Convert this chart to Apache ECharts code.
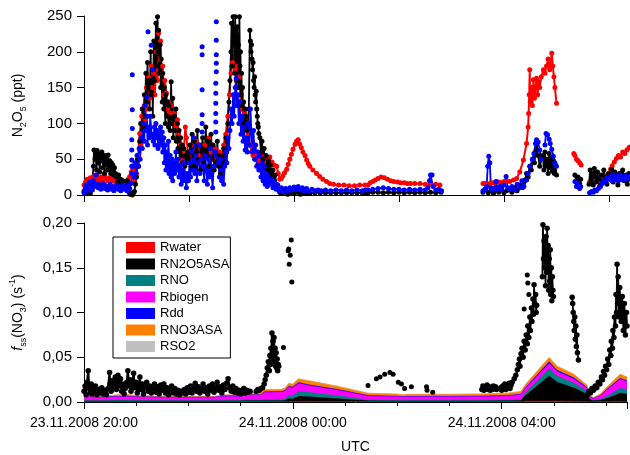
<!DOCTYPE html>
<html><head><meta charset="utf-8">
<script src="https://cdn.jsdelivr.net/npm/echarts@6/dist/echarts.min.js"></script>
<style>html,body{margin:0;padding:0;background:#fff}#c{width:630px;height:455px}</style>
</head><body><div id="c"></div>
<script>
// ---- x tick labels (hours counted from 23.11.2008 00:00) ----
const xTickLabels = {20: '23.11.2008 20:00', 24: '24.11.2008 00:00', 28: '24.11.2008 04:00'};

// ---- Top panel: N2O5 (ppt), [hour, value] ----
const n2o5Red = [
[20.00,14],[20.03,18],[20.06,22],[20.09,17],[20.12,24],[20.15,20],[20.18,26],[20.21,22],[20.24,28],[20.27,24],[20.30,20],[20.33,25],[20.36,22],[20.39,27],[20.42,23],[20.45,20],[20.48,24],[20.51,21],[20.54,25],[20.57,20],[20.60,18],[20.63,22],[20.66,17],[20.69,20],[20.72,16],[20.75,19],[20.78,15],[20.81,18],[20.84,22],[20.87,26],[20.90,32],[20.93,36],
[20.96,20],[21.00,30],[21.03,55],[21.06,86],[21.08,70],[21.10,110],[21.12,95],[21.15,125],[21.17,105],[21.19,150],[21.21,120],[21.23,165],[21.25,135],[21.28,180],[21.30,150],[21.32,170],[21.35,140],[21.38,200],[21.40,160],[21.42,226],[21.44,190],[21.46,215],[21.48,170],[21.50,180],[21.52,140],[21.54,160],[21.57,142],[21.59,120],[21.61,130],[21.63,115],[21.66,125],[21.69,100],[21.72,115],[21.75,95],[21.78,105],[21.80,86],[21.83,70],[21.85,44],[21.88,48],[21.90,60],[21.93,95],[21.95,80],[21.98,60],[22.01,50],[22.04,70],[22.07,55],
[22.10,60],[22.14,75],[22.18,55],[22.22,65],[22.26,45],[22.30,70],[22.34,55],[22.38,80],[22.42,60],[22.46,50],[22.50,65],[22.54,45],[22.58,60],[22.62,50],[22.66,70],[22.70,85],[22.74,110],[22.77,140],
[22.80,170],[22.83,185],[22.86,200],[22.88,175],[22.90,160],[22.92,180],[22.94,150],[22.96,165],[22.98,130],[23.00,140],[23.02,120],[23.04,118],[23.06,115],[23.08,120],[23.10,100],[23.13,86],[23.16,70],[23.19,60],
[23.22,55],[23.26,50],[23.30,58],[23.34,48],[23.38,55],[23.42,45],[23.47,49],[23.51,52],[23.54,53],[23.58,46],[23.62,42],[23.67,40],
[23.70,30],[23.73,22],[23.76,23],[23.79,27],[23.82,31],[23.86,36],[23.89,43],[23.92,50],[23.95,57],[23.98,64],[24.02,71],[24.05,75],[24.08,77],[24.11,71],[24.14,66],[24.17,60],[24.21,55],[24.24,49],[24.27,44],[24.30,40],[24.36,35],[24.43,30],[24.49,26],[24.55,22],[24.62,19],[24.68,16],
[24.75,15],[24.85,14],[24.95,14],[25.05,13],[25.15,13],[25.25,14],[25.35,14],[25.385,null],
[25.41,14],[25.45,17],[25.50,19],[25.55,21],[25.60,23],[25.66,25],[25.72,24],[25.78,22],[25.84,20],[25.90,19],[25.97,18],[26.03,17],[26.10,17],[26.16,16],[26.22,16],[26.30,16],[26.40,16],[26.50,15],[26.60,15],[26.70,15],[26.78,14],[27.2,null],
[27.60,16],[27.65,16],[27.70,15],[27.75,17],[27.80,17],[27.85,18],[27.90,18],[27.95,17],[28.00,19],[28.05,20],
[28.11,19],[28.18,21],[28.24,23],[28.30,32],[28.37,49],[28.43,72],[28.46,95],[28.47,114],[28.48,140],[28.49,175],[28.50,130],[28.52,150],[28.54,125],[28.56,161],[28.58,135],[28.60,150],[28.62,163],[28.64,140],[28.66,158],[28.68,150],[28.71,165],[28.75,175],[28.78,170],[28.81,180],[28.84,190],[28.87,175],[28.91,198],[28.93,180],[28.95,165],[28.97,150],[29.00,128],[29.2,null],
[29.33,58],[29.35,55],[29.38,50],[29.41,48],[29.44,45],[29.47,42],[29.55,null],
[29.63,18],[29.67,17],[29.72,18],[29.77,19],[29.82,20],[29.88,22],[29.94,26],[30.00,30],[30.03,36],[30.06,41],[30.10,46],[30.14,51],[30.18,55],[30.22,53],[30.26,60],[30.30,58],[30.34,63],[30.38,66],[30.40,67]
];

const n2o5Black = [
[20.00,5],[20.03,12],[20.06,3],[20.09,8],[20.12,2],[20.15,10],
[20.18,40],[20.19,63],[20.21,50],[20.22,60],[20.24,35],[20.25,62],[20.27,45],[20.28,58],[20.30,32],[20.31,55],[20.33,48],[20.34,60],[20.36,38],[20.37,52],[20.39,30],[20.40,55],[20.42,42],[20.43,50],[20.45,35],[20.46,56],[20.48,40],[20.49,48],[20.51,30],[20.52,45],[20.54,35],[20.55,42],[20.57,28],[20.58,38],[20.60,30],
[20.62,25],[20.64,18],[20.66,28],[20.68,15],[20.70,22],[20.72,14],[20.74,20],[20.76,12],[20.78,18],[20.80,14],[20.82,20],[20.84,16],
[20.86,4],[20.88,1],[20.90,3],[20.92,0],[20.94,2],[20.96,5],
[20.98,15],[21.00,25],[21.02,50],[21.04,40],[21.06,75],[21.08,100],[21.10,80],[21.11,120],[21.13,95],[21.15,140],[21.16,110],[21.18,170],[21.19,130],[21.21,185],[21.22,150],[21.24,160],[21.25,120],[21.27,200],[21.28,140],[21.30,175],[21.31,110],[21.33,215],[21.34,160],[21.36,190],[21.37,240],[21.38,180],[21.40,249],[21.41,200],[21.42,230],[21.43,170],[21.45,210],[21.46,150],[21.47,190],[21.49,130],[21.50,170],[21.52,120],[21.53,150],[21.55,100],[21.56,140],[21.58,110],[21.59,130],[21.61,95],[21.62,125],[21.64,90],[21.66,158],[21.67,100],[21.69,135],[21.70,80],[21.72,110],[21.73,90],[21.75,120],[21.76,75],[21.78,100],[21.79,65],[21.81,90],[21.82,60],[21.84,80],[21.85,55],[21.87,70],[21.88,45],[21.90,65],[21.92,40],[21.94,55],[21.96,45],[21.98,60],
[22.00,50],[22.02,70],[22.04,40],[22.06,85],[22.08,55],[22.10,75],[22.12,40],[22.14,60],[22.16,90],[22.18,50],[22.20,70],[22.22,35],[22.24,65],[22.26,80],[22.28,45],[22.30,60],[22.32,95],[22.34,55],[22.36,75],[22.38,40],[22.40,65],[22.42,85],[22.44,50],[22.46,70],[22.48,35],[22.50,60],[22.52,45],[22.54,75],[22.56,40],[22.58,55],[22.60,30],[22.62,50],[22.64,40],[22.66,65],[22.68,45],[22.70,80],[22.72,60],[22.74,100],[22.76,130],
[22.78,160],[22.80,200],[22.81,240],[22.82,180],[22.84,249],[22.85,210],[22.86,230],[22.87,170],[22.88,249],[22.89,200],[22.90,220],[22.91,160],[22.92,235],[22.93,190],[22.94,210],[22.95,150],[22.96,249],[22.97,180],[22.98,200],[22.99,140],[23.00,170],[23.01,125],[23.02,150],[23.03,110],[23.04,130],[23.05,100],[23.06,120],[23.07,95],[23.08,110],[23.10,90],[23.12,100],[23.14,120],
[23.16,230],[23.17,215],[23.18,200],[23.19,210],[23.20,190],[23.21,175],[23.22,185],[23.23,160],[23.24,150],[23.25,165],[23.26,140],[23.27,130],[23.28,145],[23.29,120],[23.30,110],[23.31,100],[23.32,95],[23.33,86],
[23.35,80],[23.37,60],[23.39,75],[23.41,50],[23.43,65],[23.45,40],[23.47,55],[23.49,35],[23.51,48],[23.53,30],[23.55,42],[23.57,25],[23.60,35],[23.62,20],[23.64,28],[23.67,15],[23.70,8],[23.73,4],
[23.76,2],[23.82,4],[23.88,1],[23.94,3],[24.00,2],[24.06,4],[24.12,1],[24.18,3],[24.24,2],[24.30,2],[24.40,3],[24.50,3],[24.60,3],[24.70,3],[24.80,3],[24.90,3],[25.00,3],[25.10,3],[25.20,3],[25.30,3],[25.36,3],[25.385,null],
[25.41,3],[25.50,4],[25.60,4],[25.70,3],[25.80,4],[25.90,3],[26.00,4],[26.10,3],[26.20,4],[26.30,3],[26.40,4],[26.50,3],[26.60,4],[26.70,3],[26.80,4],[27.2,null],
[27.60,4],[27.65,8],[27.70,3],[27.75,6],[27.80,2],[27.85,7],[27.90,4],[27.95,9],[28.00,3],[28.05,6],[28.10,8],[28.15,4],[28.20,10],[28.25,6],[28.30,14],[28.35,10],[28.40,21],[28.43,30],[28.46,25],[28.49,40],[28.52,35],[28.55,50],[28.58,45],[28.60,60],[28.62,74],[28.65,55],[28.68,40],
[28.74,55],[28.76,35],[28.78,60],[28.80,40],[28.82,50],[28.84,30],[28.86,58],[28.88,38],[28.90,52],[28.92,33],[28.94,48],[28.96,30],[28.98,42],[29.00,28],[29.2,null],
[29.35,28],[29.38,18],[29.41,25],[29.44,16],[29.46,22],[29.55,null],
[29.62,15],[29.64,35],[29.66,20],[29.68,30],[29.70,14],[29.72,37],[29.74,25],[29.76,18],[29.78,32],[29.80,22],[29.82,12],[29.85,28],[29.88,20],[29.90,35],[29.93,25],[29.96,15],[29.99,30],[30.02,22],[30.05,36],[30.08,18],[30.11,32],[30.14,25],[30.17,14],[30.20,30],[30.23,22],[30.26,35],[30.29,20],[30.32,28],[30.35,15],[30.38,30],[30.40,22]
];

const n2o5Blue = [
[20.00,3],[20.02,8],[20.04,14],[20.06,6],[20.08,12],[20.10,18],[20.12,9],[20.14,15],[20.16,7],[20.18,20],[20.20,12],[20.23,28],[20.25,15],[20.27,10],[20.30,14],[20.32,8],[20.35,12],[20.37,16],[20.40,9],[20.42,13],[20.45,7],[20.47,11],[20.50,15],[20.52,8],[20.55,12],[20.57,6],[20.60,10],[20.62,14],[20.65,8],[20.67,12],[20.70,6],[20.72,10],[20.75,14],[20.77,8],[20.80,11],[20.82,6],[20.85,13],[20.87,9],[20.89,16],
[20.93,40],[20.95,25],[20.97,45],[20.99,30],[21.01,55],[21.03,40],[21.05,65],[21.07,50],[21.09,80],[21.11,65],[21.13,100],[21.15,75],[21.16,125],[21.18,90],[21.20,110],[21.21,70],[21.23,95],[21.25,80],[21.26,110],[21.29,85],[21.32,75],[21.34,95],[21.35,70],[21.37,100],[21.38,80],[21.40,90],[21.41,65],[21.43,85],[21.44,75],[21.46,95],[21.47,70],[21.49,88],[21.50,60],[21.52,80],[21.53,45],[21.55,70],[21.56,35],[21.58,60],[21.59,40],[21.61,75],[21.62,30],[21.64,55],[21.66,25],[21.68,50],[21.69,20],[21.71,45],[21.73,30],[21.75,60],[21.77,35],[21.79,50],[21.81,25],[21.83,40],[21.85,15],[21.87,35],[21.89,20],[21.91,45],[21.93,25],[21.95,10],[21.97,30],[21.99,20],
[22.01,45],[22.03,25],[22.05,60],[22.07,35],[22.09,80],[22.11,30],[22.13,55],[22.15,20],[22.17,45],[22.19,70],[22.21,30],[22.23,50],[22.27,40],[22.29,20],[22.31,55],[22.33,35],[22.35,15],[22.37,50],[22.39,25],[22.41,65],[22.43,30],[22.45,10],[22.47,40],[22.49,60],[22.56,45],[22.58,25],[22.60,50],[22.62,20],[22.64,35],[22.66,15],[22.68,40],[22.70,60],[22.72,45],[22.74,80],[22.76,65],
[22.78,90],[22.80,120],[22.82,100],[22.84,140],[22.86,110],[22.88,150],[22.90,163],[22.91,125],[22.93,140],[22.95,100],[22.97,130],[22.99,85],[23.01,110],[23.03,75],[23.05,95],[23.07,63],[23.09,80],[23.11,60],[23.13,100],[23.15,70],[23.17,120],[23.19,85],[23.21,60],[23.23,90],[23.25,50],[23.27,70],[23.29,40],[23.31,60],[23.33,35],[23.35,55],[23.37,25],[23.39,45],[23.41,20],[23.43,40],[23.45,15],[23.47,30],[23.49,12],[23.51,25],[23.54,15],[23.57,22],[23.60,10],[23.63,18],[23.66,8],[23.69,14],
[23.72,6],[23.76,10],[23.80,5],[23.84,9],[23.88,6],[23.92,10],[23.96,7],[24.00,11],[24.04,8],[24.08,12],[24.12,7],[24.16,10],[24.20,6],[24.24,9],[24.28,5],[24.34,8],[24.40,6],[24.46,7],[24.52,6],[24.60,7],[24.70,6],[24.80,7],[24.90,6],[25.00,7],[25.10,6],[25.20,7],[25.30,6],[25.36,7],[25.385,null],
[25.41,7],[25.50,8],[25.60,9],[25.70,10],[25.80,9],[25.90,8],[26.00,8],[26.10,7],[26.20,8],[26.30,7],[26.40,8],[26.50,7],[26.55,10],[26.58,20],[26.60,28],[26.63,28],[26.65,12],[26.70,7],[26.76,8],[26.81,6],[27.2,null],
[27.60,6],[27.64,8],[27.67,12],[27.69,40],[27.71,54],[27.73,45],[27.75,10],[27.78,7],[27.82,10],[27.85,19],[27.88,8],[27.92,12],[27.96,7],[28.00,14],[28.04,26],[28.07,10],[28.11,8],[28.15,12],[28.20,7],[28.25,15],[28.30,10],[28.34,20],[28.38,12],[28.43,21],[28.46,30],[28.50,40],[28.54,50],[28.57,58],[28.60,72],[28.62,77],[28.65,74],[28.68,63],[28.71,50],[28.745,null],
[28.78,70],[28.80,86],[28.83,84],[28.86,78],[28.88,72],[28.91,64],[28.94,54],[28.97,45],[29.00,40],[29.2,null],
[29.35,19],[29.38,12],[29.41,15],[29.44,9],[29.46,12],[29.55,null],
[29.63,3],[29.67,5],[29.70,4],[29.73,7],[29.76,6],[29.80,9],[29.84,12],[29.87,16],[29.90,20],[29.93,18],[29.96,24],[30.00,22],[30.03,26],[30.06,20],[30.09,28],[30.12,22],[30.15,27],[30.18,20],[30.21,28],[30.24,24],[30.27,21],[30.30,27],[30.33,23],[30.36,26],[30.40,24]
];
// isolated blue readings (vertical columns and single high points)
const n2o5BlueSpikes = [
[20.91,30],[20.91,40],[20.91,49],[20.91,63],[20.91,77],[20.92,93],[20.92,119],[20.92,168],
[21.20,137],[21.22,228],[21.28,209],[21.31,175],
[22.25,88],[22.25,100],[22.25,112],[22.25,147],[22.25,196],[22.25,207],
[22.51,88],[22.51,102],[22.51,114],[22.51,128],[22.51,142],[22.51,156],[22.52,172],[22.52,184],[22.52,196],[22.52,216],[22.52,242]
];

// ---- Bottom panel: contributions to f_ss(NO3) (s^-1), sampled at areaTimes ----
const areaTimes = [20.00,20.30,20.65,20.80,21.00,21.50,22.00,22.50,22.70,23.00,23.10,23.40,23.45,23.78,23.85,23.92,24.00,24.11,24.30,24.87,25.44,26.00,26.10,26.20,27.00,27.60,28.10,28.37,28.45,28.91,29.06,29.38,29.63,29.69,29.76,29.89,30.02,30.14,30.27,30.40];
const rWater   = [0.0005,0.0005,0.0005,0.0005,0.0005,0.0005,0.0005,0.0005,0.0005,0.0005,0.0005,0.0005,0.0005,0.0005,0.0005,0.0006,0.0006,0.0008,0.0008,0.0006,0.0005,0.0005,0.0005,0.0005,0.0005,0.0005,0.0005,0.0005,0.0010,0.0010,0.0010,0.0008,0.0006,0.0004,0.0004,0.0005,0.0006,0.0007,0.0008,0.0008];
const rN2O5ASA = [0.0005,0.0005,0.0006,0.0006,0.0005,0.0005,0.0005,0.0005,0.0006,0.0006,0.0008,0.0008,0.0008,0.0009,0.0012,0.0030,0.0028,0.0055,0.0050,0.0030,0.0008,0.0006,0.0005,0.0006,0.0006,0.0006,0.0008,0.0010,0.0060,0.0280,0.0210,0.0150,0.0080,0.0020,0.0010,0.0015,0.0035,0.0060,0.0090,0.0080];
const rNO      = [0.0010,0.0008,0.0010,0.0010,0.0009,0.0008,0.0008,0.0008,0.0009,0.0009,0.0012,0.0012,0.0014,0.0015,0.0018,0.0035,0.0033,0.0055,0.0050,0.0035,0.0010,0.0008,0.0007,0.0008,0.0008,0.0009,0.0010,0.0012,0.0030,0.0085,0.0070,0.0055,0.0035,0.0010,0.0008,0.0010,0.0025,0.0040,0.0055,0.0050];
const rBiogen  = [0.0040,0.0035,0.0038,0.0040,0.0038,0.0035,0.0034,0.0035,0.0045,0.0045,0.0052,0.0052,0.0082,0.0082,0.0088,0.0095,0.0092,0.0090,0.0075,0.0060,0.0045,0.0042,0.0038,0.0040,0.0040,0.0042,0.0045,0.0055,0.0050,0.0055,0.0050,0.0045,0.0035,0.0020,0.0018,0.0040,0.0070,0.0085,0.0100,0.0090];
const rDd      = [0.0003,0.0003,0.0004,0.0004,0.0003,0.0003,0.0003,0.0003,0.0004,0.0004,0.0005,0.0005,0.0005,0.0005,0.0006,0.0008,0.0008,0.0010,0.0010,0.0008,0.0005,0.0004,0.0004,0.0004,0.0004,0.0004,0.0005,0.0005,0.0007,0.0020,0.0015,0.0012,0.0008,0.0003,0.0002,0.0004,0.0008,0.0010,0.0012,0.0010];
const rNO3ASA  = [0.0007,0.0005,0.0018,0.0022,0.0012,0.0008,0.0008,0.0008,0.0010,0.0012,0.0026,0.0026,0.0025,0.0025,0.0028,0.0033,0.0032,0.0040,0.0045,0.0035,0.0025,0.0024,0.0022,0.0023,0.0023,0.0024,0.0026,0.0030,0.0035,0.0048,0.0045,0.0040,0.0025,0.0012,0.0008,0.0015,0.0025,0.0035,0.0045,0.0040];
const rSO2     = [0.0001,0.0001,0.0001,0.0001,0.0001,0.0001,0.0001,0.0001,0.0001,0.0001,0.0001,0.0001,0.0001,0.0001,0.0001,0.0002,0.0002,0.0002,0.0002,0.0002,0.0001,0.0001,0.0001,0.0001,0.0001,0.0001,0.0001,0.0001,0.0002,0.0003,0.0003,0.0002,0.0002,0.0001,0.0001,0.0001,0.0002,0.0002,0.0002,0.0002];

// ---- Bottom panel: measured f_ss(NO3) points, [hour, value] ----
const fssBand = [
[20.00,0.012],[20.02,0.018],[20.04,0.008],[20.06,0.022],[20.08,0.035],[20.10,0.015],[20.12,0.010],[20.14,0.020],[20.16,0.009],[20.18,0.016],[20.20,0.012],[20.22,0.018],[20.25,0.008],[20.28,0.014],[20.31,0.010],[20.34,0.016],[20.37,0.009],[20.40,0.013],[20.43,0.008],[20.46,0.015],[20.49,0.033],[20.50,0.020],[20.52,0.012],[20.55,0.024],[20.57,0.016],[20.60,0.028],[20.62,0.014],[20.65,0.030],[20.67,0.018],[20.70,0.026],[20.72,0.012],[20.75,0.020],[20.77,0.009],[20.79,0.015],[20.82,0.022],[20.84,0.035],[20.86,0.018],[20.88,0.025],[20.90,0.012],[20.92,0.020],[20.95,0.032],[20.97,0.016],[21.00,0.022],[21.02,0.010],[21.05,0.018],[21.07,0.028],[21.09,0.014],[21.12,0.020],[21.14,0.009],[21.17,0.016],[21.20,0.022],[21.23,0.012],[21.26,0.018],[21.29,0.010],[21.32,0.015],[21.35,0.020],[21.38,0.011],[21.41,0.017],[21.44,0.009],[21.47,0.019],[21.50,0.013],[21.53,0.020],[21.56,0.010],[21.59,0.016],[21.62,0.008],[21.65,0.014],[21.68,0.018],[21.71,0.010],[21.74,0.015],[21.77,0.009],[21.80,0.013],[21.83,0.008],[21.86,0.012],[21.89,0.010],
[21.92,0.014],[21.95,0.009],[21.98,0.016],[22.01,0.011],[22.04,0.018],[22.07,0.010],[22.10,0.015],[22.13,0.021],[22.16,0.012],[22.19,0.017],[22.22,0.010],[22.25,0.015],[22.28,0.020],[22.31,0.012],[22.34,0.016],[22.37,0.009],[22.40,0.018],[22.43,0.013],[22.46,0.020],[22.49,0.011],[22.52,0.016],[22.55,0.022],[22.58,0.013],[22.61,0.017],[22.64,0.010],[22.67,0.019],[22.70,0.014],[22.73,0.021],[22.76,0.026],[22.79,0.016],[22.82,0.012],[22.85,0.018],[22.88,0.011],[22.91,0.015],[22.94,0.010],[22.97,0.013],[23.00,0.009],[23.03,0.012],[23.06,0.015],[23.09,0.010],[23.12,0.013],[23.15,0.011],[23.18,0.012],[23.24,null],
[23.30,0.012],[23.33,0.014],[23.36,0.013],[23.39,0.015],[23.42,0.016],[23.45,0.020],[23.47,0.025],[23.49,0.030],[23.51,0.038],[23.53,0.045],[23.55,0.035],[23.56,0.052],[23.57,0.042],[23.58,0.060],[23.59,0.048],[23.60,0.077],[23.61,0.055],[23.62,0.068],[23.63,0.050],[23.64,0.072],[23.65,0.045],[23.66,0.060],[23.67,0.040],[23.68,0.055],[23.69,0.038],[23.70,0.048],[23.71,0.035],[23.72,0.042],[23.73,0.040]
];
const fssIsolated = [
[23.82,0.061],[23.91,0.169],[23.92,0.171],[23.93,0.154],[23.95,0.164],[23.97,0.181],[23.98,0.134],
[25.44,0.0185],[25.60,0.026],[25.67,0.028],[25.76,0.031],[25.86,0.033],[25.92,0.031],[26.02,0.022],[26.08,0.020],[26.14,0.015],[26.27,0.017],[26.56,0.017],[26.57,0.013],[26.68,0.011],
[28.43,0.104],[28.49,0.142],[28.50,0.133],[28.52,0.120]
];
const fssMorning = [
[27.62,0.014],[27.64,0.018],[27.66,0.013],[27.68,0.017],[27.70,0.015],[27.72,0.019],[27.74,0.014],[27.76,0.017],[27.78,0.013],[27.80,0.016],[27.82,0.014],[27.84,0.018],[27.86,0.015],[27.88,0.017],[27.90,0.014],[27.94,null],
[27.98,0.016],[28.00,0.013],[28.02,0.018],[28.04,0.015],[28.06,0.020],[28.08,0.014],[28.10,0.018],[28.12,0.016],[28.14,0.021],[28.16,0.015],[28.18,0.019],
[28.20,0.022],[28.24,0.026],[28.27,0.030],[28.30,0.036],[28.32,0.042],[28.34,0.048],[28.35,0.040],[28.37,0.054],[28.39,0.060],[28.41,0.050],[28.43,0.068],[28.45,0.058],[28.47,0.075],[28.49,0.065],[28.50,0.085],[28.52,0.072],[28.54,0.095],[28.55,0.080],[28.57,0.105],[28.58,0.090],[28.60,0.115],[28.61,0.098],[28.62,0.131],[28.63,0.110],[28.65,0.120],[28.66,0.100],[28.67,0.108],[28.73,null],
[28.78,0.140],[28.79,0.198],[28.80,0.160],[28.81,0.180],[28.82,0.150],[28.83,0.170],[28.84,0.130],[28.85,0.185],[28.86,0.145],[28.87,0.194],[28.88,0.155],[28.89,0.175],[28.90,0.125],[28.91,0.160],[28.92,0.135],[28.93,0.170],[28.94,0.120],[28.95,0.150],[28.96,0.113],[28.97,0.140],[28.98,0.125],[28.99,0.118],[29.2,null],
[29.35,0.117],[29.36,0.110],[29.37,0.100],[29.38,0.090],[29.39,0.080],[29.40,0.095],[29.41,0.070],[29.42,0.085],[29.43,0.062],[29.44,0.075],[29.45,0.055],[29.47,0.047],[29.55,null],
[29.64,0.008],[29.67,0.012],[29.70,0.010],[29.73,0.015],[29.76,0.013],[29.79,0.018],[29.82,0.016],[29.85,0.022],[29.88,0.020],[29.91,0.028],[29.93,0.025],[29.95,0.034],[29.97,0.030],[29.99,0.040],[30.01,0.036],[30.03,0.048],[30.05,0.042],[30.07,0.058],[30.09,0.052],[30.10,0.068],[30.12,0.060],[30.13,0.080],[30.15,0.072],[30.16,0.095],[30.18,0.085],[30.19,0.120],[30.20,0.100],[30.21,0.154],[30.22,0.110],[30.23,0.140],[30.25,0.095],[30.26,0.128],[30.28,0.105],[30.29,0.090],[30.31,0.118],[30.33,0.080],[30.35,0.110],[30.37,0.075],[30.39,0.100],[30.40,0.085]
];

const areaNames  = ['Rwater','RN2O5ASA','RNO','Rbiogen','Rdd','RNO3ASA','RSO2'];
const areaValues = [rWater, rN2O5ASA, rNO, rBiogen, rDd, rNO3ASA, rSO2];
const areaColors = ['#ff0000','#000000','#008080','#ff00ff','#0000ff','#ff8000','#c0c0c0'];

const FONT = '"Liberation Sans", Arial, sans-serif';
const chart = echarts.init(document.getElementById('c'), null, {renderer: 'canvas'});

function xAxisBase(idx, showLabels) {
  return {
    type: 'value', gridIndex: idx, min: 20, max: 30.4,
    interval: showLabels ? 4 : 2,
    axisLine: {onZero: false, lineStyle: {color: '#000', width: 1}},
    axisTick: {show: true, inside: false, length: 7, lineStyle: {color: '#000'}},
    minorTick: {show: showLabels, splitNumber: 4, length: 4, lineStyle: {color: '#000'}},
    splitLine: {show: false},
    axisLabel: {show: showLabels, margin: 14, fontFamily: FONT, fontSize: 14, color: '#000',
      formatter: v => xTickLabels[Math.round(v)] || ''},
    showMinLabel: true, showMaxLabel: false
  };
}

const richBase = {
  a: {fontFamily: FONT, fontSize: 14, color: '#000', lineHeight: 20, verticalAlign: 'middle'},
  i: {fontFamily: FONT, fontSize: 14, color: '#000', lineHeight: 20, verticalAlign: 'middle', fontStyle: 'italic'},
  s: {fontFamily: FONT, fontSize: 9, color: '#000', lineHeight: 9, verticalAlign: 'bottom'},
  p: {fontFamily: FONT, fontSize: 9, color: '#000', lineHeight: 9, verticalAlign: 'top'}
};

const series = [];
const lineSym = (name, data, color, xi, size, lw) => ({
  name, type: 'line', xAxisIndex: xi, yAxisIndex: xi, data,
  symbol: 'circle', symbolSize: size, showSymbol: true, showAllSymbol: true,
  connectNulls: false, color: color,
  itemStyle: {color: color}, lineStyle: {color: color, width: lw},
  silent: true, animation: false, clip: true, z: 3
});
const dots = (name, data, color, xi, size) => ({
  name, type: 'scatter', xAxisIndex: xi, yAxisIndex: xi, data,
  symbol: 'circle', symbolSize: size, itemStyle: {color: color, opacity: 1},
  silent: true, animation: false, clip: true, z: 4
});
series.push(lineSym('red', n2o5Red, '#ff0000', 0, 5, 2));
series.push(lineSym('black', n2o5Black, '#000000', 0, 5, 1.8));
series.push(lineSym('blue', n2o5Blue, '#0000ff', 0, 5, 1.8));
series.push(dots('blueSpikes', n2o5BlueSpikes, '#0000ff', 0, 5));

// stacked areas: cumulative sums of the component arrays, drawn from the top layer down
const cumulative = areaValues.map((_, k) =>
  areaTimes.map((t, j) => [t, areaValues.slice(0, k + 1).reduce((s, arr) => s + arr[j], 0)]));
for (let k = areaNames.length - 1; k >= 0; k--) {
  series.push({
    name: areaNames[k], type: 'line', xAxisIndex: 1, yAxisIndex: 1,
    data: cumulative[k],
    symbol: 'none', showSymbol: false, color: areaColors[k],
    itemStyle: {color: areaColors[k]},
    lineStyle: {width: 0.5, color: areaColors[k]},
    areaStyle: {color: areaColors[k], opacity: 1, origin: 'start'},
    silent: true, animation: false, z: 2
  });
}
series.push(Object.assign(lineSym('fssBand', fssBand, '#000', 1, 5.5, 2.2), {z: 4}));
series.push(dots('fssIsolated', fssIsolated, '#000', 1, 5));
series.push(Object.assign(lineSym('fssMorning', fssMorning, '#000', 1, 5.5, 1.8), {z: 4}));

chart.setOption({
  animation: false,
  backgroundColor: '#fff',
  grid: [
    {left: 84, top: 16, width: 546, height: 179},
    {left: 84, top: 223, width: 546, height: 180}
  ],
  xAxis: [
    xAxisBase(0, false),
    Object.assign(xAxisBase(1, true), {
      name: 'UTC', nameLocation: 'middle', nameGap: 38,
      nameTextStyle: {fontFamily: FONT, fontSize: 14, color: '#000'}
    })
  ],
  yAxis: [
    {type: 'value', gridIndex: 0, min: 0, max: 250, interval: 50,
     axisLine: {show: true, lineStyle: {color: '#000'}},
     axisTick: {show: true, length: 7, lineStyle: {color: '#000'}},
     splitLine: {show: false},
     axisLabel: {margin: 12, fontFamily: FONT, fontSize: 15, color: '#000'},
     name: '{a|N}{s|2}{a|O}{s|5}{a| (ppt)}', nameLocation: 'middle', nameGap: 56, nameRotate: 90,
     nameTextStyle: {fontFamily: FONT, fontSize: 14, color: '#000', rich: richBase}},
    {type: 'value', gridIndex: 1, min: 0, max: 0.2, interval: 0.05,
     axisLine: {show: true, lineStyle: {color: '#000'}},
     axisTick: {show: true, length: 7, lineStyle: {color: '#000'}},
     splitLine: {show: false},
     axisLabel: {margin: 12, fontFamily: FONT, fontSize: 15, color: '#000',
       formatter: v => v.toFixed(2).replace('.', ',')},
     name: '{i|f}{s|ss}{a|(NO}{s|3}{a|) (s}{p|-1}{a|)}', nameLocation: 'middle', nameGap: 56, nameRotate: 90,
     nameTextStyle: {fontFamily: FONT, fontSize: 14, color: '#000', rich: richBase}}
  ],
  legend: {
    data: areaNames, orient: 'vertical', left: 113, top: 237,
    icon: 'rect', itemWidth: 29, itemHeight: 11, itemGap: 3.5,
    padding: [4, 1, 5, 13],
    borderColor: '#000', borderWidth: 1, backgroundColor: '#fff',
    textStyle: {fontFamily: FONT, fontSize: 13, color: '#000', lineHeight: 13},
    itemStyle: {borderWidth: 0},
    selectedMode: false, z: 10
  },
  series: series
});
</script></body></html>
